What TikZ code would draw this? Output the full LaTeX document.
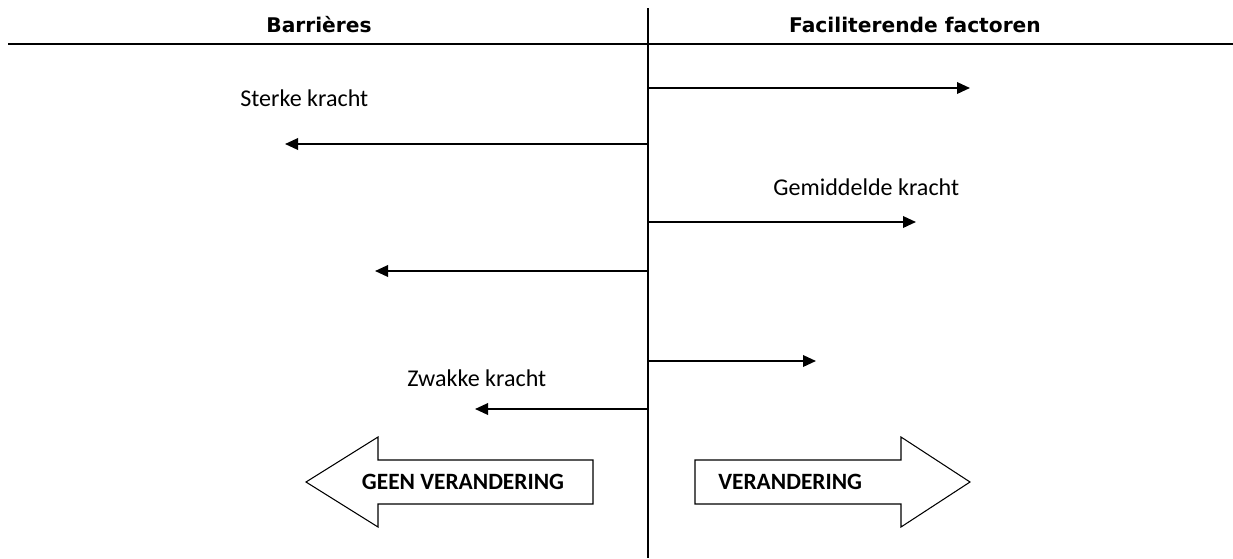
\documentclass[tikz,border=0pt]{standalone}
\usepackage{fontspec}
\setmainfont{Carlito}
\newfontfamily\headfont{DejaVu Sans}
\usetikzlibrary{arrows.meta,positioning}
\tikzset{
  >={Triangle[length=2.6mm,width=2.3mm]},
  head/.style   ={font=\headfont\bfseries\fontsize{11.5}{13}\selectfont,inner sep=1pt},
  lbl/.style    ={font=\fontsize{13.7}{16}\selectfont,inner sep=0pt},
  force/.style  ={->,line width=1.1pt},
  bigarrow/.style={draw,fill=white,line width=0.6pt,line join=miter},
  bigtxt/.style ={font=\bfseries\fontsize{13.3}{15}\selectfont,inner sep=0pt},
}
\begin{document}
\begin{tikzpicture}[x=0.02cm,y=-0.02cm]
\useasboundingbox (0,0) rectangle (1233,558);
% axis and header rule
\coordinate (top) at (648,8);
\coordinate (bot) at (648,558);
\coordinate (hl) at (8,44);
\coordinate (hr) at (1233,44);
\draw[line width=0.9pt] (top) -- (bot);
\draw[line width=1.2pt] (hl) -- (hr);
\node[head] (bar) at (319,25) {Barrières};
\node[head] (fac) at (915,25) {Faciliterende factoren};
% forces
\coordinate (s1) at (648,88);  \coordinate (t1) at (970,88);
\coordinate (s2) at (648,144); \coordinate (t2) at (285,144);
\coordinate (s3) at (648,222); \coordinate (t3) at (916,222);
\coordinate (s4) at (648,271); \coordinate (t4) at (375,271);
\coordinate (s5) at (648,361); \coordinate (t5) at (816,361);
\coordinate (s6) at (648,409); \coordinate (t6) at (475,409);
\draw[force] (s1) -- (t1);
\draw[force] (s2) -- (t2);
\draw[force] (s3) -- (t3);
\draw[force] (s4) -- (t4);
\draw[force] (s5) -- (t5);
\draw[force] (s6) -- (t6);
\node[lbl,anchor=west] (sterk) at (240,98) {Sterke kracht};
\node[lbl,anchor=west] (gem) at (773,187) {Gemiddelde kracht};
\node[lbl,anchor=west] (zwak) at (407,378) {Zwakke kracht};
% outcome arrows
\draw[bigarrow] (593,460) -- (378,460) -- (378,437) -- (306,482)
  -- (378,527) -- (378,504) -- (593,504) -- cycle;
\node[bigtxt] (geen) at (463,482) {GEEN VERANDERING};
\draw[bigarrow] (695,460) -- (901,460) -- (901,437) -- (970,482)
  -- (901,527) -- (901,504) -- (695,504) -- cycle;
\node[bigtxt,anchor=west] (ver) at (718,482) {VERANDERING};
\end{tikzpicture}
\end{document}
